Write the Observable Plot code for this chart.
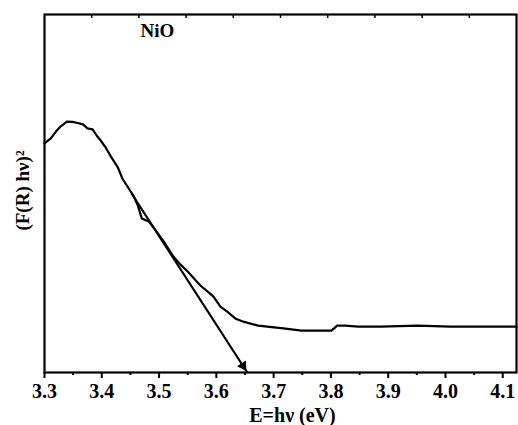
<!DOCTYPE html>
<html>
<head>
<meta charset="utf-8">
<script src="https://cdn.jsdelivr.net/npm/d3@7"></script>
<script src="https://cdn.jsdelivr.net/npm/@observablehq/plot@0.6"></script>
<style>
  html, body { margin: 0; padding: 0; background: #fff; }
  #chart svg { display: block; }
</style>
</head>
<body>
<div id="chart"></div>
<script>
// Photon energy (eV) and (F(R) hν)^2 in arbitrary units (0–100 frame)
const energy = [3.300, 3.311, 3.320, 3.328, 3.339, 3.349, 3.358, 3.367, 3.375, 3.384,
  3.391, 3.398, 3.407, 3.416, 3.428, 3.436, 3.447, 3.456, 3.463, 3.470,
  3.482, 3.494, 3.508, 3.525, 3.537, 3.550, 3.572, 3.585, 3.595, 3.607,
  3.619, 3.633, 3.647, 3.673, 3.717, 3.749, 3.801, 3.811, 3.825, 3.848,
  3.886, 3.952, 4.008, 4.060, 4.124];
const signal = [64.0, 65.4, 67.3, 68.7, 70.1, 70.0, 69.7, 69.3, 68.2, 67.9,
  66.2, 64.8, 62.8, 60.3, 57.3, 54.2, 51.4, 49.2, 46.6, 43.0,
  42.2, 39.7, 36.6, 32.4, 30.2, 28.2, 24.3, 22.6, 21.2, 18.4,
  17.0, 15.1, 14.2, 13.1, 12.3, 11.7, 11.7, 13.1, 13.1, 12.8,
  12.8, 13.1, 12.8, 12.8, 12.8];

// Tangent (band-gap extrapolation) line
const tangentE = [3.452, 3.654];
const tangentV = [50.0, 0.0];

const xDomain = [3.3, 4.124];
const yDomain = [0, 100];
const majorTicks = [3.3, 3.4, 3.5, 3.6, 3.7, 3.8, 3.9, 4.0, 4.1];
const minorTicks = [3.35, 3.45, 3.55, 3.65, 3.75, 3.85, 3.95, 4.05];
const topTicks = d3.range(1, 10).map(k => xDomain[0] + k * (xDomain[1] - xDomain[0]) / 10);

const sampleLabel = "NiO";
const sampleLabelE = 3.497;
const xLabel = "E=hν (eV)";
const yLabel = "(F(R) hν)²";

const curve = energy.map((e, i) => ({e, v: signal[i]}));
const tangent = [{x1: tangentE[0], y1: tangentV[0], x2: tangentE[1], y2: tangentV[1]}];

const font = "'Liberation Serif', 'Times New Roman', serif";

const chart = Plot.plot({
  width: 518,
  height: 425,
  marginLeft: 44,
  marginRight: 2,
  marginTop: 14,
  marginBottom: 53,
  style: {fontFamily: font, background: "#fff", color: "#000", overflow: "visible"},
  x: {domain: xDomain},
  y: {domain: yDomain, axis: null},
  marks: [
    Plot.line(curve, {x: "e", y: "v", stroke: "#000", strokeWidth: 2.2, curve: "linear", strokeLinejoin: "round"}),
    Plot.link(tangent, {x1: "x1", y1: "y1", x2: "x2", y2: "y2", stroke: "#000", strokeWidth: 2.2}),
    Plot.dot(tangent, {x: "x2", y: "y2", symbol: "triangle2", r: 5, fill: "#000", stroke: "none",
      rotate: 147.3, dx: -4.2, dy: -6.6}),
    Plot.axisX({ticks: majorTicks, tickSize: 6, tickPadding: 5, tickFormat: d3.format(".1f"),
      fontSize: 20, fontWeight: "bold", fontFamily: font, strokeWidth: 2, label: null}),
    Plot.axisX({ticks: minorTicks, tickSize: 3, tickFormat: () => "", strokeWidth: 2, label: null}),
    Plot.axisX({anchor: "top", ticks: topTicks, tickSize: -3, tickFormat: () => "", strokeWidth: 1.5, label: null}),
    Plot.frame({stroke: "#000", strokeWidth: 2.2}),
    Plot.text([sampleLabel], {x: sampleLabelE, frameAnchor: "top", dy: 9, text: d => d,
      fontSize: 19, fontWeight: "bold", fontFamily: font, fill: "#000"}),
    Plot.text([xLabel], {frameAnchor: "bottom", dy: 49, dx: 12, text: d => d,
      fontSize: 20, fontWeight: "bold", fontFamily: font, fill: "#000"}),
    Plot.text([yLabel], {frameAnchor: "left", textAnchor: "middle", rotate: -90, dx: -22, dy: -3, text: d => d,
      fontSize: 19, fontWeight: "bold", fontFamily: font, fill: "#000"})
  ]
});
document.getElementById("chart").append(chart);
</script>
</body>
</html>
